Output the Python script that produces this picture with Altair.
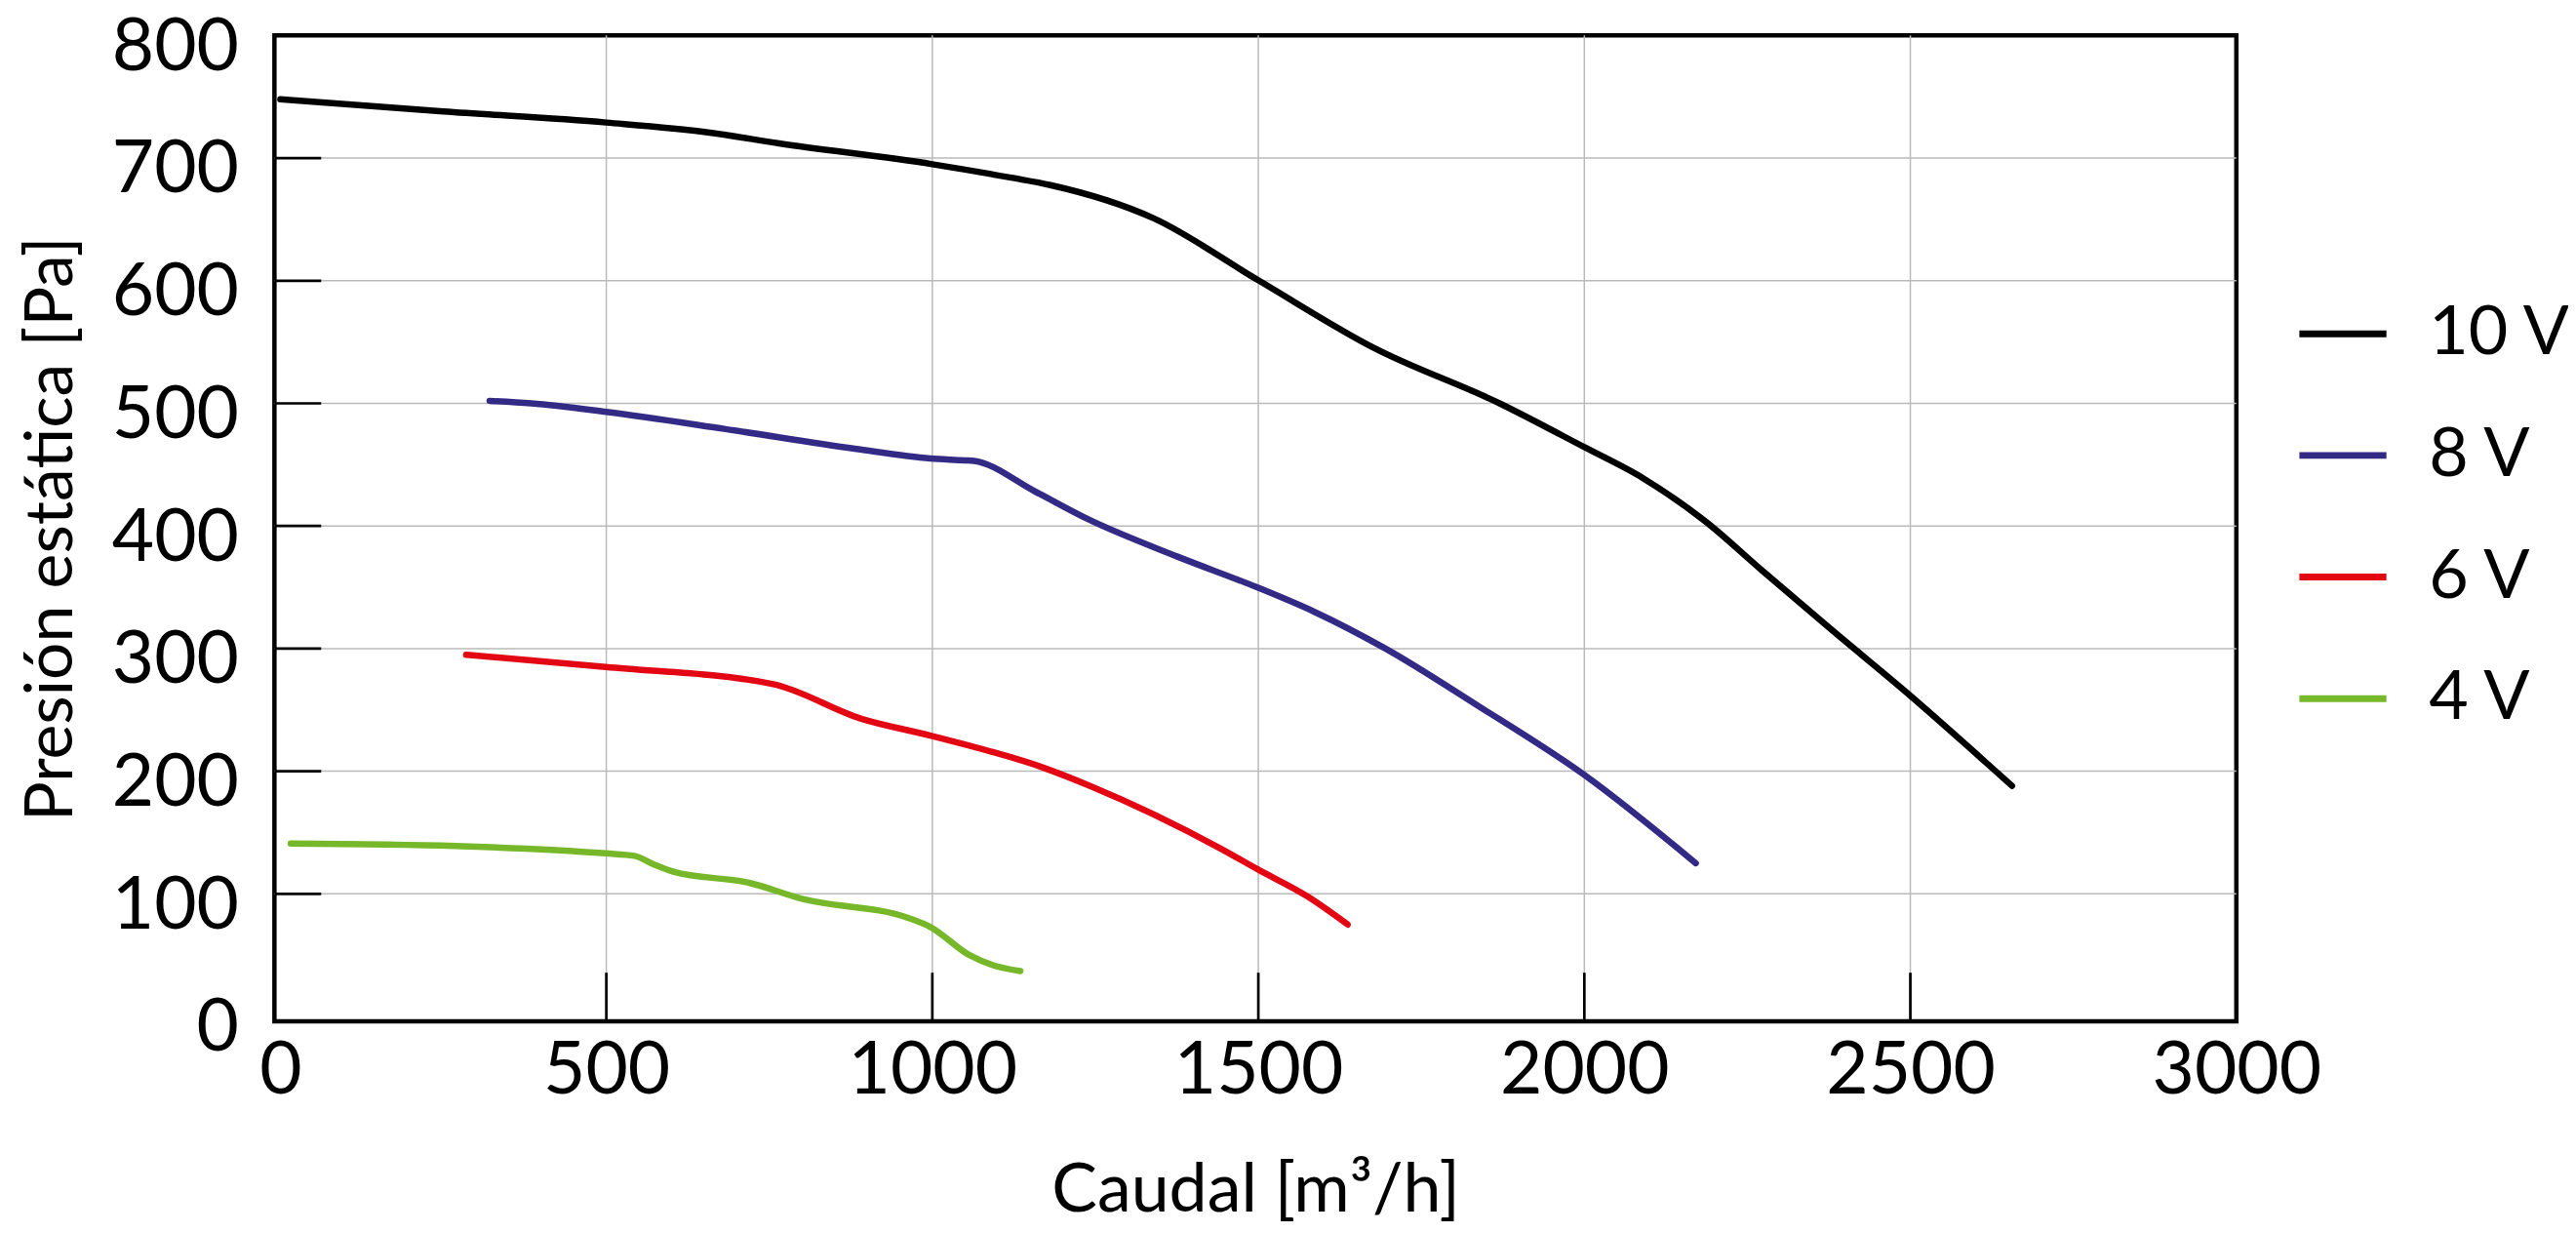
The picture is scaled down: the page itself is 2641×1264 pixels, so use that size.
import altair as alt
import pandas as pd

# ---------------- data ----------------
series_names = ["10 V", "8 V", "6 V", "4 V"]
series_colors = ["#000000", "#332a85", "#e30613", "#76b82a"]

caudal_10v = [0, 250, 500, 656, 765, 1000, 1121, 1181, 1339, 1498, 1678, 1870, 2001, 2090, 2185, 2272, 2380, 2497, 2656]
presion_10v = [748, 738, 729, 721, 712, 695, 684, 678, 651, 601, 545, 500, 464, 439, 404, 364, 315, 263, 188]

caudal_8v = [321, 385, 500, 683, 881, 997, 1050, 1064, 1158, 1237, 1376, 1498, 1586, 1695, 1835, 2000, 2171]
presion_8v = [502, 500, 493, 479, 463, 455, 453.5, 453, 428, 406, 375, 350, 330, 300, 254, 197, 125]

caudal_6v = [285, 499, 756, 890, 997, 1175, 1242, 1442, 1499, 1575, 1637]
presion_6v = [295, 285, 271, 243, 229, 202, 188, 137, 120, 98, 75]

caudal_4v = [16, 269, 499, 543, 573, 603, 719, 800, 965, 997, 1057, 1092, 1135]
presion_4v = [141, 139, 133, 131, 124, 118, 109, 96, 80, 73, 50, 42, 37]

x_labels = [0, 500, 1000, 1500, 2000, 2500, 3000]
y_labels = [0, 100, 200, 300, 400, 500, 600, 700, 800]
x_inner = [500, 1000, 1500, 2000, 2500]
y_inner = [100, 200, 300, 400, 500, 600, 700]

x_title = "Caudal [m³/h]"
y_title = "Presión estática [Pa]"

# ---------------- tables ----------------
rows = []
for name, xs, ys in zip(series_names,
                        [caudal_10v, caudal_8v, caudal_6v, caudal_4v],
                        [presion_10v, presion_8v, presion_6v, presion_4v]):
    for xv, yv in zip(xs, ys):
        rows.append({"serie": name, "caudal": xv, "presion": yv})
df = pd.DataFrame(rows)

xgrid_df = pd.DataFrame({"caudal": x_inner})
ygrid_df = pd.DataFrame({"presion": y_inner})

W, H = 2016, 1013
FONT = "Lato"
GRID = "#bababa"

xscale = alt.Scale(domain=[-9, 3000], nice=False, zero=False)
yscale = alt.Scale(domain=[-4, 800], nice=False, zero=False)

x_axis = alt.Axis(values=x_labels, format="d", title=x_title, grid=False, ticks=False, tickSize=0,
                  domain=False, labelFont=FONT, labelFontSize=75, labelColor="black",
                  labelPadding=14.5, labelFlush=False, titleFont=FONT, titleFontSize=70,
                  titleFontWeight="normal", titleColor="black", titleX=W / 2, titleY=195,
                  titleBaseline="alphabetic", titleAlign="center")
y_axis = alt.Axis(values=y_labels, format="d", title=y_title, grid=False, ticks=False, tickSize=0,
                  domain=False, labelFont=FONT, labelFontSize=75, labelColor="black",
                  labelPadding=37, labelOffset=12, labelFlush=False, titleFont=FONT,
                  titleFontSize=68, titleFontWeight="normal", titleColor="black",
                  titleX=-208, titleY=H / 2, titleAngle=270, titleBaseline="alphabetic",
                  titleAlign="center")

lines = alt.Chart(df).mark_line(
    strokeWidth=6.5, strokeCap="round", strokeJoin="round", interpolate="monotone"
).encode(
    x=alt.X("caudal:Q", scale=xscale, axis=x_axis),
    y=alt.Y("presion:Q", scale=yscale, axis=y_axis),
    color=alt.Color(
        "serie:N",
        scale=alt.Scale(domain=series_names, range=series_colors),
        sort=series_names,
        legend=alt.Legend(title=None, orient="none", legendX=2077, legendY=258,
                          symbolType="stroke", symbolSize=8000, symbolStrokeWidth=7,
                          labelFont=FONT, labelFontSize=70, labelColor="black",
                          labelOffset=40, rowPadding=41, padding=0),
    ),
    detail="serie:N",
)

xgrid = alt.Chart(xgrid_df).mark_rule(color=GRID, strokeWidth=1.5).encode(
    x=alt.X("caudal:Q", scale=xscale), y=alt.value(0), y2=alt.value(H))
ygrid = alt.Chart(ygrid_df).mark_rule(color=GRID, strokeWidth=1.5).encode(
    y=alt.Y("presion:Q", scale=yscale), x=alt.value(0), x2=alt.value(W))
xticks = alt.Chart(xgrid_df).mark_rule(color="black", strokeWidth=2.7).encode(
    x=alt.X("caudal:Q", scale=xscale), y=alt.value(H), y2=alt.value(H - 50))
yticks = alt.Chart(ygrid_df).mark_rule(color="black", strokeWidth=2.7).encode(
    y=alt.Y("presion:Q", scale=yscale), x=alt.value(0), x2=alt.value(48))

chart = alt.layer(xgrid, ygrid, xticks, yticks, lines).properties(
    width=W, height=H,
    autosize=alt.AutoSizeParams(type="none"),
    padding={"left": 274, "top": 27, "right": 341, "bottom": 210},
).configure_view(stroke="black", strokeWidth=4.5)

chart.save("out.html", embed_options={"renderer": "svg", "actions": False})
